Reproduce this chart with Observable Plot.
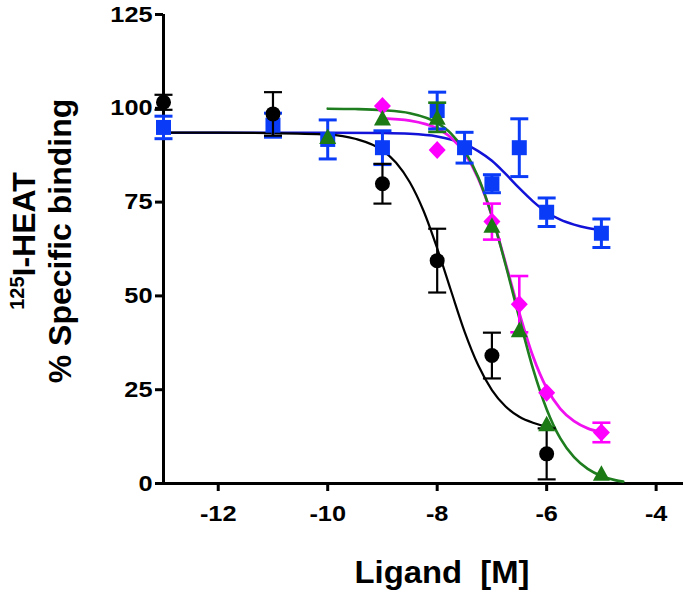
<!DOCTYPE html>
<html>
<head>
<meta charset="utf-8">
<script src="https://cdn.jsdelivr.net/npm/d3@7"></script>
<script src="https://cdn.jsdelivr.net/npm/@observablehq/plot@0.6"></script>
<style>
  html, body { margin: 0; padding: 0; background: #fff; }
  #chart { width: 688px; height: 596px; }
</style>
</head>
<body>
<div id="chart"></div>
<script>
// ---------- data ----------
const xTicks = [-12, -10, -8, -6, -4];
const yTicks = [0, 25, 50, 75, 100, 125];

// black circles
const blackX   = [-13, -11, -9, -8, -7, -6];
const blackY   = [101.6, 98.5, 79.9, 59.4, 34.1, 7.9];
const blackErr = [2.0, 5.8, 5.3, 8.5, 6.1, 6.8];
// blue squares
const blueX   = [-13, -11, -10, -9, -8, -7.5, -7, -6.5, -6, -5];
const blueY   = [94.9, 95.5, 91.7, 89.5, 99.4, 89.5, 79.9, 89.5, 72.3, 66.7];
const blueErr = [3.0, 3.2, 5.2, 4.5, 4.9, 4.1, 2.4, 7.7, 3.8, 3.8];
// magenta diamonds
const magX   = [-9, -8, -7, -6.5, -6, -5];
const magY   = [100.6, 88.9, 69.8, 47.8, 24.2, 13.6];
const magErr = [0, 0, 4.8, 7.5, 0, 2.6];
// green triangles
const grnX   = [-10, -9, -8, -7, -6.5, -6, -5];
const grnY   = [92.5, 97.4, 97.6, 68.8, 41.0, 15.9, 2.7];
const grnErr = [0, 0, 3.9, 0, 0, 0, 0];

// fitted curves
const blackCurveX = [-13, -12, -11, -10, -9.5, -9, -8.75, -8.5, -8.25, -8, -7.75, -7.5, -7.25, -7, -6.75, -6.5, -6.25, -6, -5.85];
const blackCurveY = [93.5, 93.5, 93.4, 93.0, 91.9, 88.8, 85.5, 80.3, 72.7, 62.7, 51.5, 40.5, 31.5, 24.9, 20.5, 17.8, 16.2, 15.2, 14.9];
const blueCurveX  = [-13, -12, -11, -10, -9, -8.5, -8, -7.75, -7.5, -7.25, -7, -6.75, -6.5, -6.25, -6, -5.75, -5.5, -5.25, -5];
const blueCurveY  = [93.5, 93.5, 93.5, 93.5, 93.4, 93.2, 92.5, 91.7, 90.5, 88.6, 86.0, 82.5, 78.7, 75.2, 72.3, 70.3, 69.0, 68.1, 67.6];
const magCurveX   = [-9, -8.5, -8, -7.75, -7.5, -7.25, -7, -6.75, -6.5, -6.25, -6, -5.75, -5.5, -5.25, -5];
const magCurveY   = [97.3, 96.7, 94.6, 92.2, 88.0, 81.3, 71.3, 58.7, 45.5, 33.9, 25.4, 19.9, 16.6, 14.7, 13.7];
const grnCurveX   = [-10, -9.5, -9, -8.5, -8, -7.75, -7.5, -7.25, -7, -6.75, -6.5, -6.25, -6, -5.75, -5.5, -5.25, -5, -4.75, -4.6];
const grnCurveY   = [99.9, 99.8, 99.5, 98.7, 96.1, 93.3, 88.7, 81.6, 71.3, 58.3, 44.1, 30.6, 19.8, 12.0, 7.0, 3.9, 2.0, 0.9, 0.5];

// ---------- tables ----------
const pts = (xs, ys, es) => xs.map((x, i) => ({x, y: ys[i], lo: ys[i] - (es ? es[i] : 0), hi: ys[i] + (es ? es[i] : 0), e: es ? es[i] : 0}));
const line = (xs, ys) => xs.map((x, i) => ({x, y: ys[i]}));

const black = pts(blackX, blackY, blackErr);
const blue = pts(blueX, blueY, blueErr);
const mag = pts(magX, magY, magErr);
const grn = pts(grnX, grnY, grnErr);

// ---------- symbols ----------
const capSym = {draw(c) { c.moveTo(-9, 0); c.lineTo(9, 0); }};
const circleSym = {draw(c) { c.moveTo(7.5, 0); c.arc(0, 0, 7.5, 0, 2 * Math.PI); c.closePath(); }};
const squareSym = {draw(c) { c.rect(-7.5, -7.5, 15, 15); }};
const diamondSym = {draw(c) { c.moveTo(0, -9); c.lineTo(8.5, 0); c.lineTo(0, 9); c.lineTo(-8.5, 0); c.closePath(); }};
const triSym = {draw(c) { c.moveTo(0, -8); c.lineTo(8.5, 7.5); c.lineTo(-8.5, 7.5); c.closePath(); }};

const COL = {
  black: "#000000",
  blue: "#0a3cf8", blueLine: "#1212d8",
  mag: "#ff00ff", magLine: "#f010f0",
  grn: "#1b7a14", grnLine: "#1e7d1e"
};

function series(data, color, sym, ew) {
  const withErr = data.filter(d => d.e > 0);
  return [
    Plot.ruleX(withErr, {x: "x", y1: "lo", y2: "hi", stroke: color, strokeWidth: ew}),
    Plot.dot(withErr, {x: "x", y: "hi", symbol: capSym, fill: "none", stroke: color, strokeWidth: ew}),
    Plot.dot(withErr, {x: "x", y: "lo", symbol: capSym, fill: "none", stroke: color, strokeWidth: ew}),
    Plot.dot(data, {x: "x", y: "y", symbol: sym, fill: color, stroke: "none"})
  ];
}

const chart = Plot.plot({
  width: 688,
  height: 596,
  marginLeft: 163,
  marginRight: 5,
  marginTop: 14,
  marginBottom: 113,
  style: {fontFamily: "'Liberation Sans', Arial, sans-serif", fontSize: "22px", fontWeight: "bold", background: "#fff", color: "#000"},
  x: {domain: [-13, -3.5]},
  y: {domain: [0, 125]},
  marks: [
    Plot.ruleY([0], {stroke: "#000", strokeWidth: 3}),
    Plot.ruleX([-13], {stroke: "#000", strokeWidth: 3}),
    Plot.axisX({ticks: xTicks, tickSize: 8, tickPadding: 14, strokeWidth: 3, tickFormat: d => String(d), label: null, fontSize: 22, fontWeight: "bold"}),
    Plot.axisY({ticks: yTicks, tickSize: 8, tickPadding: 3, strokeWidth: 3, tickFormat: d => String(d), label: null, fontSize: 22, fontWeight: "bold"}),
    // curves
    Plot.line(line(blueCurveX, blueCurveY), {x: "x", y: "y", stroke: COL.blueLine, strokeWidth: 2.5, curve: "monotone-x"}),
    Plot.line(line(blackCurveX, blackCurveY), {x: "x", y: "y", stroke: COL.black, strokeWidth: 2.2, curve: "monotone-x"}),
    Plot.line(line(magCurveX, magCurveY), {x: "x", y: "y", stroke: COL.magLine, strokeWidth: 2.8, curve: "monotone-x"}),
    Plot.line(line(grnCurveX, grnCurveY), {x: "x", y: "y", stroke: COL.grnLine, strokeWidth: 2.6, curve: "monotone-x"}),
    // points + error bars
    ...series(blue, COL.blue, squareSym, 3),
    ...series(black, COL.black, circleSym, 2.2),
    ...series(mag, COL.mag, diamondSym, 2.6),
    ...series(grn, COL.grn, triSym, 2.6)
  ]
});

document.getElementById("chart").appendChild(chart);

// widen tick labels to match the reference lettering
const svg = d3.select(chart);
svg.selectAll('g[aria-label$="tick label"] text').each(function() {
  const len = this.getComputedTextLength();
  this.setAttribute("textLength", (len * 1.15).toFixed(1));
  this.setAttribute("lengthAdjust", "spacingAndGlyphs");
});

// axis titles
const ff = "'Liberation Sans', Arial, sans-serif";
svg.append("text")
  .attr("x", 442).attr("y", 583)
  .attr("text-anchor", "middle")
  .attr("font-family", ff).attr("font-size", 32).attr("font-weight", "bold")
  .attr("textLength", 175).attr("lengthAdjust", "spacingAndGlyphs")
  .style("white-space", "pre")
  .text("Ligand  [M]");

const t1 = svg.append("text")
  .attr("transform", "translate(35,241) rotate(-90)")
  .attr("text-anchor", "middle")
  .attr("font-family", ff).attr("font-size", 32).attr("font-weight", "bold");
t1.append("tspan").attr("font-size", 20).attr("dy", -11).text("125");
t1.append("tspan").attr("dy", 11).text("I-HEAT");

svg.append("text")
  .attr("transform", "translate(71,241) rotate(-90)")
  .attr("text-anchor", "middle")
  .attr("font-family", ff).attr("font-size", 32).attr("font-weight", "bold")
  .text("% Specific binding");
</script>
</body>
</html>
